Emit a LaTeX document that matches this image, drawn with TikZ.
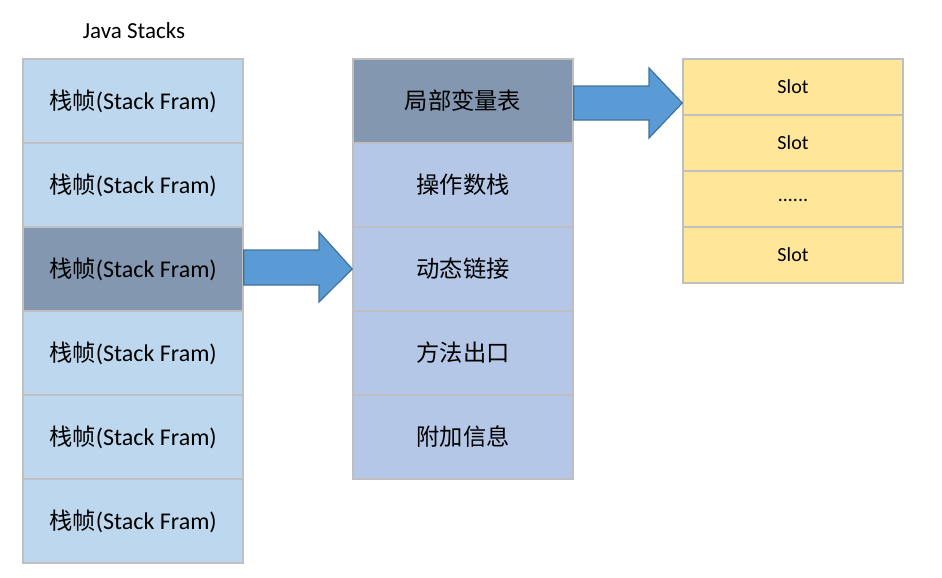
\documentclass[tikz,border=0pt]{standalone}
\usepackage{fontspec}
\setmainfont{Carlito}
\newfontfamily\cjk[Scale=0.97]{Noto Sans CJK SC}
\usetikzlibrary{shapes.arrows}
\definecolor{lblue}{HTML}{BDD7EE}
\definecolor{mblue}{HTML}{B4C7E7}
\definecolor{dblue}{HTML}{8497B0}
\definecolor{lyel}{HTML}{FFE699}
\definecolor{bgray}{HTML}{BFBFBF}
\definecolor{afill}{HTML}{5B9BD5}
\definecolor{aline}{HTML}{41719C}
\tikzset{
  cell/.style={draw=bgray, line width=1.5pt, minimum width=220pt, minimum height=84pt, inner sep=0pt, font=\fontsize{24}{28}\selectfont},
  lcell/.style={cell, fill=lblue},
  mcell/.style={cell, fill=mblue},
  hcell/.style={cell, fill=dblue},
  scell/.style={cell, fill=lyel, minimum height=56pt, font=\fontsize{20}{24}\selectfont},
  bigarrow/.style={draw=aline, fill=afill, line width=1.2pt, line join=miter},
}
\begin{document}
\begin{tikzpicture}[x=1pt,y=-1pt]
\useasboundingbox (0,0) rectangle (942,578);
\node[font=\fontsize{23}{27}\selectfont] (title) at (134,31) {Java Stacks};
% left column
\foreach \i/\s in {0/lcell,1/lcell,2/hcell,3/lcell,4/lcell,5/lcell}{
  \node[\s] (f\i) at (133,{101+84*\i}) {{\cjk 栈帧}(Stack Fram)};
}
% middle column
\node[hcell] (m0) at (463,101) {\cjk 局部变量表};
\node[mcell] (m1) at (463,185) {\cjk 操作数栈};
\node[mcell] (m2) at (463,269) {\cjk 动态链接};
\node[mcell] (m3) at (463,353) {\cjk 方法出口};
\node[mcell] (m4) at (463,437) {\cjk 附加信息};
% right column
\node[scell] (s0) at (793,87) {Slot};
\node[scell] (s1) at (793,143) {Slot};
\node[scell] (s2) at (793,199) {\raisebox{-5pt}{......}};
\node[scell] (s3) at (793,255) {Slot};
% arrows
\draw[bigarrow] (f2.east |- 0,250) -- (319,250) -- (319,232) -- (m2.west) -- (319,302) -- (319,285) -- (f2.east |- 0,285) -- cycle;
\draw[bigarrow] (m0.east |- 0,86) -- (649,86) -- (649,68) -- (s0.west |- 0,103) -- (649,138) -- (649,120) -- (m0.east |- 0,120) -- cycle;
\end{tikzpicture}
\end{document}
